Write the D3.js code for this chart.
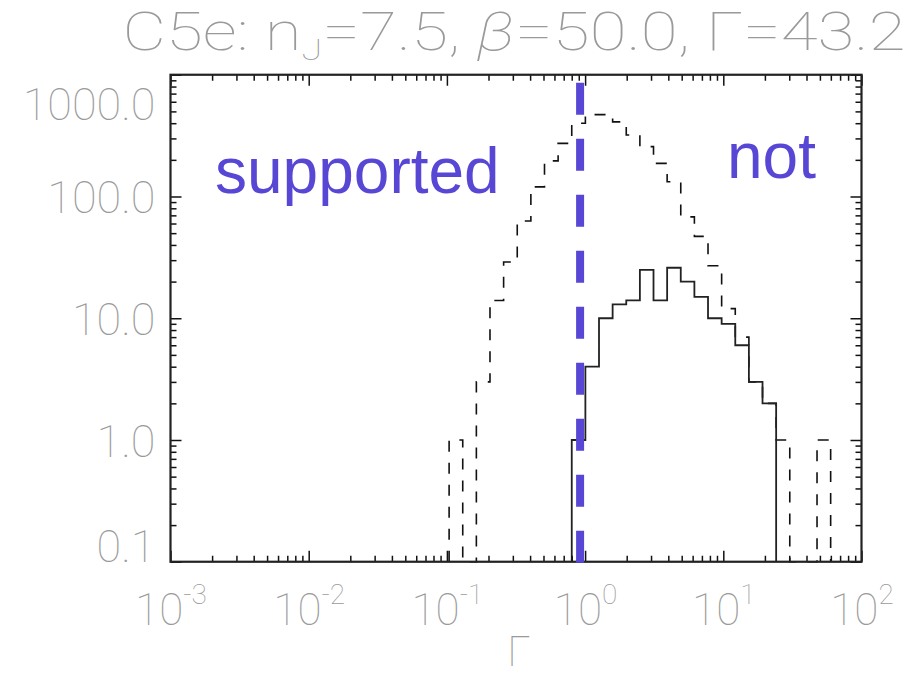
<!doctype html>
<html lang="en">
<head>
<meta charset="utf-8">
<style>
body, html { margin:0; padding:0; background:white; overflow:hidden; }
svg { position:absolute; top:0; left:0; }
.lbl { font-family: Roboto, "DejaVu Sans", sans-serif; font-weight: 100; fill: #9a9a9a; }
.note { font-family: "Liberation Sans", Arial, sans-serif; fill: #5847d5; }
</style>
</head>
<body>
<div id="chart"></div>
<script src="https://cdn.jsdelivr.net/npm/d3@7"></script>
<script>
const width = 912, height = 675;

// histogram bins in log10(Gamma): first edge and bin width
const binStart = -0.984;
const binWidth = 0.0986;

// dashed histogram, bins 0..27
const allCounts = [1, 0, 3, 14, 29, 63, 120, 196, 273, 400, 470, 470, 410, 320,
                   257, 187, 132, 68, 47, 27, 12, 7, 3, 2, 1, 0, 0, 1];
// solid histogram, starting at bin 9
const subFirstBin = 9;
const subCounts = [1, 4, 10, 13, 14, 25, 14, 26, 20, 15, 10, 9, 6, 3, 2];

const xTicks = [1e-3, 1e-2, 1e-1, 1, 10, 100];
const xExps = ["-3", "-2", "-1", "0", "1", "2"];
const yTicks = [0.1, 1, 10, 100, 1000];
const yLabels = ["0.1", "1.0", "10.0", "100.0", "1000.0"];
const supportLine = 0.92;

const x = d3.scaleLog().domain([1e-3, 1e2]).range([170.5, 861.5]);
const y = d3.scaleLog().domain([0.1, 1000]).range([561.75, 74.75]);

const svg = d3.select("#chart").append("svg")
  .attr("width", width).attr("height", height);

const minorOf = (dom) => {
  const out = [];
  for (let e = Math.round(Math.log10(dom[0])); e < Math.round(Math.log10(dom[1])); e++)
    for (let m = 2; m <= 9; m++) out.push(m * Math.pow(10, e));
  return out;
};
const xMinor = minorOf(x.domain());
const yMinor = minorOf(y.domain());

const x0 = x.range()[0], x1 = x.range()[1];
const yb = y.range()[0], yt = y.range()[1];

// ---- histograms
const edgeX = (k) => x(Math.pow(10, binStart + k * binWidth));
const stepPts = (counts, first) => {
  const pts = [[edgeX(first), yb]];
  counts.forEach((v, i) => {
    const yy = v > 0 ? y(v) : yb;
    pts.push([edgeX(first + i), yy]);
    pts.push([edgeX(first + i + 1), yy]);
  });
  pts.push([edgeX(first + counts.length), yb]);
  return pts;
};
const line = d3.line();

svg.append("path")
  .attr("d", line(stepPts(allCounts, 0)))
  .attr("fill", "none").attr("stroke", "#111")
  .attr("stroke-width", 1.6)
  .attr("stroke-dasharray", "11,11");

svg.append("path")
  .attr("d", line(stepPts(subCounts, subFirstBin)))
  .attr("fill", "none").attr("stroke", "#222")
  .attr("stroke-width", 1.8);

// ---- axes (ticks inside, IDL style box)
const mk = (axis, vals, size) => axis.tickValues(vals).tickSize(-size).tickFormat("");
const gAx = svg.append("g");
gAx.append("g").attr("transform", `translate(0,${yb})`).call(mk(d3.axisBottom(x), xMinor, 6));
gAx.append("g").attr("transform", `translate(0,${yt})`).call(mk(d3.axisTop(x), xMinor, 6));
gAx.append("g").attr("transform", `translate(0,${yt})`).call(mk(d3.axisTop(x), xTicks, 11));
gAx.append("g").attr("transform", `translate(${x0},0)`).call(mk(d3.axisLeft(y), yMinor, 6));
gAx.append("g").attr("transform", `translate(${x1},0)`).call(mk(d3.axisRight(y), yMinor, 6));
gAx.append("g").attr("transform", `translate(${x1},0)`).call(mk(d3.axisRight(y), yTicks, 11));
gAx.selectAll(".domain").remove();
gAx.selectAll("line").attr("stroke", "#111").attr("stroke-width", 1.5);

// bottom axis with 10^n labels
const bx = svg.append("g").attr("transform", `translate(0,${yb})`)
  .call(d3.axisBottom(x).tickValues(xTicks).tickSize(-11).tickPadding(0));
bx.select(".domain").remove();
bx.selectAll("line").attr("stroke", "#111").attr("stroke-width", 1.5);
bx.selectAll("text").text(null)
  .attr("class", "lbl").attr("dy", null).attr("y", 63)
  .style("font-size", "44px")
  .each(function (d, i) {
    const t = d3.select(this);
    t.append("tspan").text("10");
    t.append("tspan").attr("dy", -21).style("font-size", "28px").text(xExps[i]);
  });

// left axis with labels
const ly = svg.append("g").attr("transform", `translate(${x0},0)`)
  .call(d3.axisLeft(y).tickValues(yTicks).tickSize(-11).tickPadding(15)
    .tickFormat((d, i) => yLabels[i]));
ly.select(".domain").remove();
ly.selectAll("line").attr("stroke", "#111").attr("stroke-width", 1.5);
ly.selectAll("text").attr("class", "lbl").style("font-size", "45px")
  .attr("dy", (d) => d === 1000 ? "1.0em" : d === 0.1 ? "0.0em" : "0.36em");

// frame
svg.append("rect")
  .attr("x", x0).attr("y", yt).attr("width", x1 - x0).attr("height", yb - yt)
  .attr("fill", "none").attr("stroke", "#222").attr("stroke-width", 2.2);

// ---- support boundary
svg.append("line")
  .attr("x1", x(supportLine)).attr("x2", x(supportLine))
  .attr("y1", yt + 8).attr("y2", yb + 7)
  .attr("stroke", "#5847d5").attr("stroke-width", 8)
  .attr("stroke-dasharray", "32,24");

svg.append("text").attr("class", "note")
  .attr("x", 215).attr("y", 193).style("font-size", "64px").text("supported");
svg.append("text").attr("class", "note")
  .attr("x", 727).attr("y", 178).style("font-size", "64px").text("not");

// ---- titles
const title = svg.append("text").attr("class", "lbl")
  .attr("x", (x0 + x1) / 2 - 2).attr("y", 50)
  .attr("text-anchor", "middle").style("font-size", "53px")
  .attr("textLength", 783).attr("lengthAdjust", "spacingAndGlyphs");
title.append("tspan").text("C5e: n");
title.append("tspan").attr("dy", 10).style("font-size", "30px").text("J");
title.append("tspan").attr("dy", -10).text("=7.5, ");
title.append("tspan").style("font-style", "italic").text("β");
title.append("tspan").text("=50.0, Γ=43.2");

svg.append("text").attr("class", "lbl")
  .attr("x", (x0 + x1) / 2 + 3).attr("y", 666)
  .attr("text-anchor", "middle").style("font-size", "42px").text("Γ");
</script>
</body>
</html>
